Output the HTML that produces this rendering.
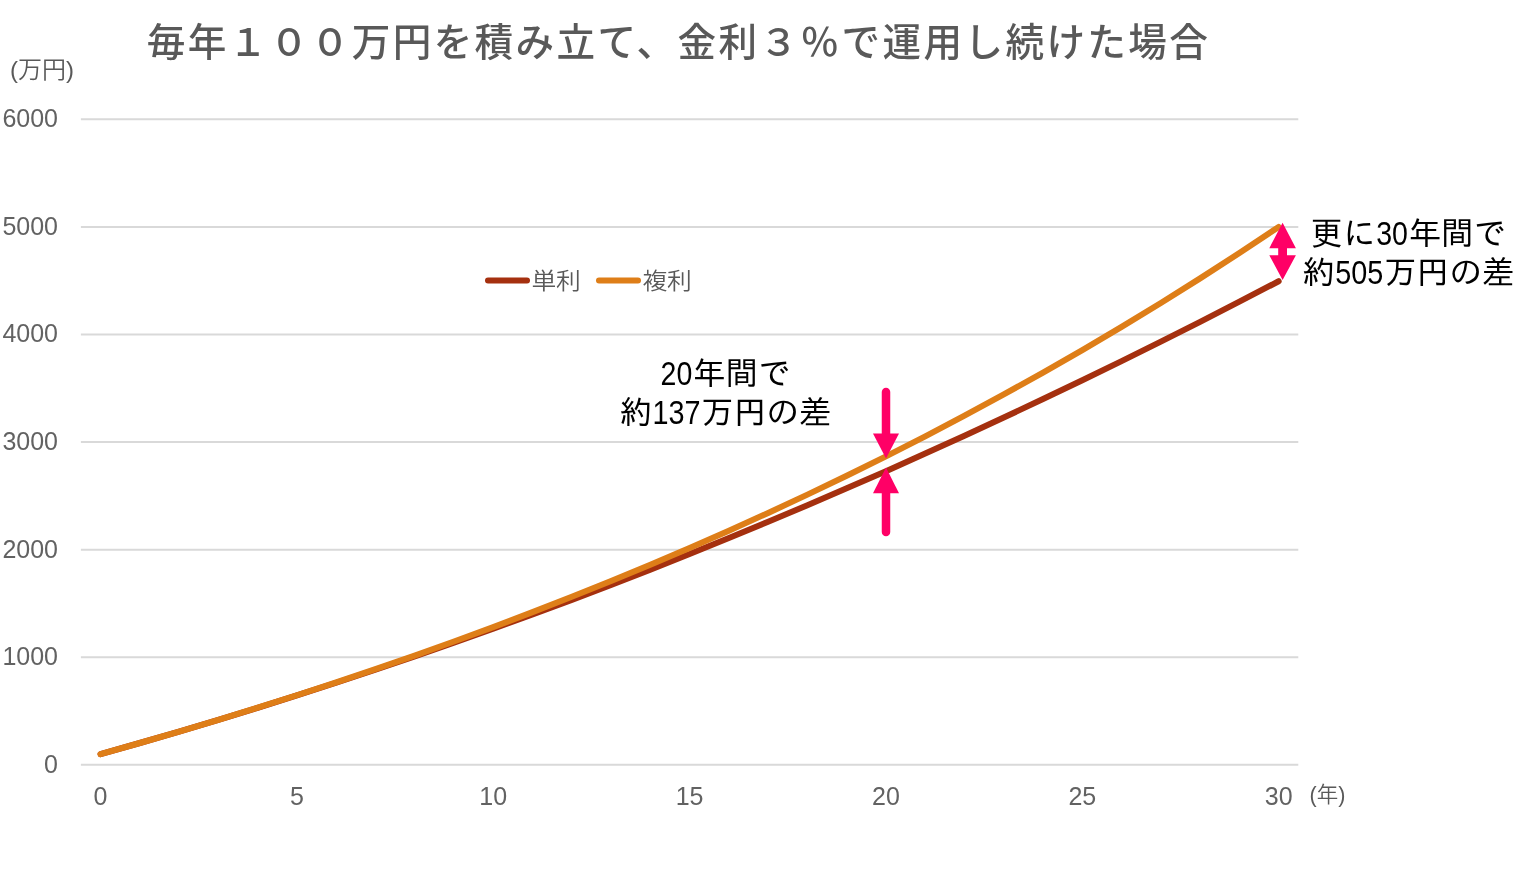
<!DOCTYPE html>
<html lang="ja">
<head>
<meta charset="utf-8">
<title>毎年１００万円を積み立て、金利３％で運用し続けた場合</title>
<style>
html,body{margin:0;padding:0;background:#fff;}
body{width:1536px;height:874px;overflow:hidden;position:relative;}
svg{position:absolute;left:0;top:0;display:block;}
.title{font-family:"Liberation Sans","Noto Sans CJK JP",sans-serif;font-size:38.6px;fill:#595959;letter-spacing:2.4px;font-weight:500;}
.ax{font-family:"Liberation Sans","Noto Sans CJK JP",sans-serif;font-size:25px;fill:#626262;}
.unit{font-family:"Liberation Sans","Noto Sans CJK JP",sans-serif;font-size:24px;fill:#595959;font-weight:350;}
.leg{font-family:"Liberation Sans","Noto Sans CJK JP",sans-serif;font-size:23.2px;letter-spacing:-0.3px;fill:#595959;font-weight:350;}
.ann{font-family:"Liberation Sans","IPAGothic",sans-serif;font-size:32.7px;fill:#000;}
</style>
</head>
<body>
<svg width="1536" height="874" viewBox="0 0 1536 874">
<rect width="1536" height="874" fill="#ffffff"/>
<line x1="80.9" x2="1298.3" y1="764.85" y2="764.85" stroke="#d9d9d9" stroke-width="2"/>
<line x1="80.9" x2="1298.3" y1="657.27" y2="657.27" stroke="#d9d9d9" stroke-width="2"/>
<line x1="80.9" x2="1298.3" y1="549.68" y2="549.68" stroke="#d9d9d9" stroke-width="2"/>
<line x1="80.9" x2="1298.3" y1="442.10" y2="442.10" stroke="#d9d9d9" stroke-width="2"/>
<line x1="80.9" x2="1298.3" y1="334.52" y2="334.52" stroke="#d9d9d9" stroke-width="2"/>
<line x1="80.9" x2="1298.3" y1="226.93" y2="226.93" stroke="#d9d9d9" stroke-width="2"/>
<line x1="80.9" x2="1298.3" y1="119.35" y2="119.35" stroke="#d9d9d9" stroke-width="2"/>
<text class="ax" text-anchor="end" x="58" y="772.75">0</text>
<text class="ax" text-anchor="end" x="58" y="665.17">1000</text>
<text class="ax" text-anchor="end" x="58" y="557.58">2000</text>
<text class="ax" text-anchor="end" x="58" y="450.00">3000</text>
<text class="ax" text-anchor="end" x="58" y="342.42">4000</text>
<text class="ax" text-anchor="end" x="58" y="234.83">5000</text>
<text class="ax" text-anchor="end" x="58" y="127.25">6000</text>
<text class="ax" x="100.54" y="804.8" text-anchor="middle">0</text>
<text class="ax" x="296.89" y="804.8" text-anchor="middle">5</text>
<text class="ax" x="493.25" y="804.8" text-anchor="middle">10</text>
<text class="ax" x="689.60" y="804.8" text-anchor="middle">15</text>
<text class="ax" x="885.95" y="804.8" text-anchor="middle">20</text>
<text class="ax" x="1082.31" y="804.8" text-anchor="middle">25</text>
<text class="ax" x="1278.66" y="804.8" text-anchor="middle">30</text>
<text class="unit" x="10" y="78">(万円)</text>
<text class="unit" x="1309.6" y="802.4" style="font-size:21.5px">(年)</text>
<text class="title" x="146.8" y="56.2">毎年１００万円を積み立て、金利３％で運用し続けた場合</text>
<polyline points="100.54,754.09 139.81,743.01 179.08,731.61 218.35,719.88 257.62,707.83 296.89,695.46 336.16,682.76 375.43,669.75 414.70,656.41 453.97,642.74 493.25,628.76 532.52,614.45 571.79,599.82 611.06,584.86 650.33,569.59 689.60,553.99 728.87,538.06 768.14,521.82 807.41,505.25 846.68,488.36 885.95,471.15 925.23,453.61 964.50,435.75 1003.77,417.57 1043.04,399.07 1082.31,380.24 1121.58,361.09 1160.85,341.62 1200.12,321.82 1239.39,301.70 1278.66,281.26" fill="none" stroke="#a5300f" stroke-width="6" stroke-linecap="round" stroke-linejoin="round"/>
<polyline points="100.54,754.09 139.81,743.01 179.08,731.60 218.35,719.84 257.62,707.73 296.89,695.26 336.16,682.41 375.43,669.18 414.70,655.55 453.97,641.52 493.25,627.06 532.52,612.17 571.79,596.83 611.06,581.03 650.33,564.76 689.60,548.00 728.87,530.73 768.14,512.95 807.41,494.63 846.68,475.77 885.95,456.34 925.23,436.33 964.50,415.71 1003.77,394.48 1043.04,372.61 1082.31,350.08 1121.58,326.88 1160.85,302.98 1200.12,278.37 1239.39,253.02 1278.66,226.90" fill="none" stroke="#de7e18" stroke-width="6" stroke-linecap="round" stroke-linejoin="round"/>
<line x1="488" x2="527" y1="280.5" y2="280.5" stroke="#a5300f" stroke-width="6" stroke-linecap="round"/>
<text class="leg" transform="translate(531.4,288.6) scale(1.07,1)">単利</text>
<line x1="599" x2="638" y1="280.5" y2="280.5" stroke="#de7e18" stroke-width="6" stroke-linecap="round"/>
<text class="leg" transform="translate(642.4,288.6) scale(1.07,1)">複利</text>
<line x1="886" x2="886" y1="392" y2="436" stroke="#ff0066" stroke-width="8.5" stroke-linecap="round"/>
<polygon points="873,433.4 899,433.4 886,458.5" fill="#ff0066"/>
<line x1="886" x2="886" y1="490" y2="532" stroke="#ff0066" stroke-width="8.5" stroke-linecap="round"/>
<polygon points="873,493.2 899,493.2 886,467.5" fill="#ff0066"/>
<polygon points="1282.6,222.7 1295.8999999999999,248.2 1287.0,248.2 1287.0,255.3 1295.8999999999999,255.3 1282.6,280 1269.3,255.3 1278.1999999999998,255.3 1278.1999999999998,248.2 1269.3,248.2" fill="#ff0066"/>
<text class="ann" y="385.2"><tspan x="660.60" textLength="31.70" lengthAdjust="spacingAndGlyphs">20</tspan><tspan x="692.80">年間で</tspan></text>
<text class="ann" y="424"><tspan x="619.23">約</tspan><tspan x="652.43" textLength="48.05" lengthAdjust="spacingAndGlyphs">137</tspan><tspan x="700.98">万円の差</tspan></text>
<text class="ann" y="245.4"><tspan x="1310.30">更に</tspan><tspan x="1376.20" textLength="31.70" lengthAdjust="spacingAndGlyphs">30</tspan><tspan x="1408.40">年間で</tspan></text>
<text class="ann" y="283.8"><tspan x="1302.12">約</tspan><tspan x="1335.33" textLength="48.05" lengthAdjust="spacingAndGlyphs">505</tspan><tspan x="1383.88">万円の差</tspan></text>
</svg>
</body>
</html>
